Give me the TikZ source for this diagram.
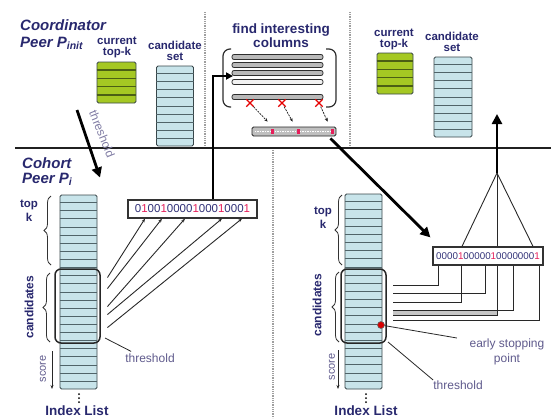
\documentclass[tikz,border=0pt]{standalone}
\usepackage{fontspec}
\setmainfont{Liberation Sans}
\usetikzlibrary{decorations.pathreplacing,arrows.meta,calc,shapes.misc}
\definecolor{navy}{RGB}{40,40,110}
\definecolor{softlbl}{RGB}{95,90,140}
\definecolor{lblue}{RGB}{200,228,234}
\definecolor{sepgray}{RGB}{80,100,105}
\definecolor{tgreen}{RGB}{165,200,35}
\definecolor{dgreen}{RGB}{75,95,20}
\definecolor{bitred}{RGB}{230,30,90}
\definecolor{bitblue}{RGB}{50,50,120}
\definecolor{darkline}{RGB}{40,40,40}
\newcommand{\fsz}[1]{\fontsize{#1}{#1}\selectfont}
\newcommand{\bz}[1]{\textcolor{bitblue}{#1}}
\newcommand{\bo}{\textcolor{bitred}{1}}
\newcommand{\rowlines}[3]{\foreach \i in {1,...,#2}{\draw[#3] ($(#1.north west)!{\i/(#2+1)}!(#1.south west)$) -- ($(#1.north east)!{\i/(#2+1)}!(#1.south east)$);}}
\begin{document}
\begin{tikzpicture}[x=1pt,y=-1pt,
  stack/.style={draw=sepgray!70!black, line width=0.9, rounded corners=1.5, inner sep=0},
  lbl/.style={font=\fontsize{11.5}{11}\selectfont\bfseries, text=navy, align=center, inner sep=0},
  head/.style={anchor=base west, font=\fsz{15}\bfseries\itshape, text=navy, inner sep=0},
  bar/.style={minimum width=91, minimum height=5, rounded corners=2, draw=gray!35!black, line width=0.8, inner sep=0},
  xmark/.style={draw=red!90!black, cross out, minimum size=6, line width=1.3, inner sep=0},
  smallarrow/.style={gray!20!black, line width=0.7, dash pattern=on 2pt off 1pt, -{Stealth[length=3.5pt,width=3pt]}},
  bigarrow/.style={line width=2.8, black, -{Triangle[length=10pt,width=10pt]}},
  midarrow/.style={line width=2.4, black, -{Triangle[length=7pt,width=7pt]}},
  fanarrow/.style={darkline, line width=0.9, -{Stealth[length=4pt,width=3pt]}},
  fanline/.style={darkline, line width=0.9},
  elbow/.style={darkline, line width=0.9},
  bitbox/.style={draw=gray!40!black, fill=white, line width=1.2, inner sep=2, minimum height=18},
  brace/.style={decorate, decoration={brace, amplitude=7pt}, draw=gray!40!black, line width=0.8},
  ptr/.style={darkline, line width=0.8},
  note/.style={font=\fontsize{12}{15}\selectfont, text=softlbl, align=center, inner sep=0},
  sepline/.style={gray!75, line width=1.5, dash pattern=on 1pt off 0.8pt},
  frame/.style={line width=1.5, black!85, rounded corners=6}]
\useasboundingbox (0,0) rectangle (551,418);

% separators
\draw[sepline] (205,12) -- (205,148);
\draw[sepline] (350,12) -- (350,148);
\draw[sepline] (273,148) -- (273,418);
\draw[line width=1.3, gray!25!black] (15,148) -- (551,148);

% headings
\node[head] (coord) at (20,30) {Coordinator};
\node[head] (peerI) at (20,47) {Peer P\textsubscript{init}};
\node[head] (cohort) at (22,168) {Cohort};
\node[head] (peerC) at (22,183) {Peer P\textsubscript{i}};

% coordinator left: current top-k and candidate set
\node[lbl] (ctkL) at (117,47) {current\\top-k};
\node[lbl] (csL) at (175,51) {candidate\\set};
\node[stack, fill=tgreen, minimum width=39, minimum height=41] (topkL) at (116.5,82.5) {};
\rowlines{topkL}{4}{dgreen, line width=1.2}
\node[stack, fill=lblue, minimum width=37, minimum height=80] (candL) at (175,106) {};
\rowlines{candL}{9}{sepgray, line width=1}

% coordinator right
\node[lbl] (ctkR) at (394,39) {current\\top-k};
\node[lbl] (csR) at (452,42) {candidate\\set};
\node[stack, fill=tgreen, minimum width=36, minimum height=41] (topkR) at (395,73.5) {};
\rowlines{topkR}{4}{dgreen, line width=1.2}
\node[stack, fill=lblue, minimum width=38, minimum height=80] (candR) at (453,97) {};
\rowlines{candR}{9}{sepgray, line width=1}

% find interesting columns
\node[lbl, font=\fontsize{13.5}{14}\selectfont\bfseries] (find) at (281,35.5) {find interesting\\columns};
\foreach \y/\f [count=\k] in {57/gray!55, 65/gray!55, 73/gray!55, 82/gray!10, 97/gray!55}
  \node[bar, fill=\f] (bar\k) at (277.5,\y) {};
\draw[gray!35!black, line width=1.2, rounded corners=7] (231,49) -- (223,49) -- (223,107) -- (231,107);
\draw[gray!35!black, line width=1.2, rounded corners=7] (326,49) -- (336,49) -- (336,107) -- (326,107);
\foreach \x/\k in {250/1,282/2,319/3}
  \node[xmark] (x\k) at (\x,103) {};
\node[draw=gray!30!black, fill=gray!50, rounded corners=1.5, minimum width=84, minimum height=9, inner sep=0, line width=0.8] (gbar) at (294,131.5) {};
\draw[white, densely dotted, line width=1.5] ($(gbar.west)+(3,0)$) -- ($(gbar.east)+(-3,0)$);
\foreach \dx in {-23,3,37}
  \fill[bitred] ($(gbar.center)+(\dx,-2.5)$) rectangle ++(3,5);
\draw[smallarrow] (x1) -- ($(gbar.north west)+(16,-5)$);
\draw[smallarrow] (x2) -- ($(gbar.north west)+(41,-5)$);
\draw[smallarrow] (x3) -- ($(gbar.north west)+(76,-5)$);

% left cohort index list
\node[stack, fill=lblue, minimum width=37, minimum height=194] (colL) at (78.5,292) {};
\rowlines{colL}{23}{sepgray, line width=1}
\draw[frame] (55,269) rectangle (100,343);
\draw[brace] (51,265) -- (51,196);
\draw[brace] (50,342) -- (50,273);
\node[lbl, font=\fontsize{11.5}{14}\selectfont\bfseries] (topkLbl) at (29,211) {top\\k};
\node[rotate=90, font=\fsz{12}\bfseries, text=navy, inner sep=0] (candLbl) at (29,307) {candidates};
\node[rotate=90, font=\fsz{11}, text=softlbl, inner sep=0] (scoreL) at (43,369) {score};
\draw[-{Stealth[length=4pt]}, darkline, line width=0.8] (52,351) -- (52,389);
\foreach \yy in {394,398,402} \fill[black] (79,\yy) circle (1);
\node[font=\fsz{13.5}\bfseries, text=navy, inner sep=0] (ilL) at (77,411) {Index List};

% left bit vector
\node[bitbox, minimum width=129, font=\fsz{11.5}] (bvL) at (192.5,209)
  {\bz{0}\bo\bz{00}\bo\bz{0000}\bo\bz{000}\bo\bz{000}\bo};
\foreach \sy/\dx in {83/-47.5, 94/-30.5, 112/-7.5, 120/29.5, 133/49.5}
  \draw[fanarrow] ($(colL.north east)+(10,\sy)$) -- ($(bvL.south)+(\dx,0)$);
\coordinate (brk) at (233,76);
\draw[midarrow] ($(bvL.north)+(20.5,0)$) |- (brk);
\node[note] (thrL) at (150,358) {threshold};
\draw[ptr] (105,338) -- ($(thrL.north west)+(6,-2)$);

% upper-left threshold arrow
\coordinate (thrS) at (77,110);
\draw[bigarrow] (thrS) -- ($(colL.north)+(21.5,-17)$);
\node[rotate=-68, font=\fsz{12}, text=softlbl!80, inner sep=0] (thrTxt) at (102,134) {threshold};

% right cohort index list
\node[stack, fill=lblue, minimum width=37, minimum height=195] (colR) at (363.5,291.5) {};
\rowlines{colR}{23}{sepgray, line width=1}
\draw[frame] (341,269) rectangle (386,343);
\draw[brace] (342,265) -- (342,195);
\draw[brace] (339,342) -- (339,272);
\node[lbl, font=\fontsize{11.5}{14}\selectfont\bfseries] (topkRLbl) at (323,218) {top\\k};
\node[rotate=90, font=\fsz{12}\bfseries, text=navy, inner sep=0] (candRLbl) at (317,305) {candidates};
\node[rotate=90, font=\fsz{11}, text=softlbl, inner sep=0] (scoreR) at (332,367) {score};
\draw[-{Stealth[length=4pt]}, darkline, line width=0.8] (338,350) -- (338,389);
\foreach \yy in {394,398,402} \fill[black] (366,\yy) circle (1);
\node[font=\fsz{13.5}\bfseries, text=navy, inner sep=0] (ilR) at (366,411) {Index List};

% right bit vector
\node[bitbox, minimum width=110, font=\fsz{9.8}] (bvR) at (488,256)
  {\bz{0000}\bo\bz{00000}\bo\bz{0000000}\bo};
\fill[gray!45] (393,311) rectangle (497,316);
\foreach \dx/\ty in {-50/92, -3/100, -27/109, 25/117, 9/122, 51/127}
  \draw[elbow] ($(bvR.south)+(\dx,0)$) |- ($(colR.north east)+(11,\ty)$);
\coordinate (fan) at (497,173);
\coordinate (arrR) at (497,114);
\foreach \dx in {-26,9,45}
  \draw[fanline] ($(bvR.north)+(\dx,0)$) -- (fan);
\draw[bigarrow] (fan) -- (arrR);

% big diagonal arrow
\draw[bigarrow] ($(gbar.south east)+(-6,2)$) -- ($(bvR.north west)+(-2,-9)$);

% early stopping point, threshold (right)
\node[circle, fill=red!85!black, draw=black!60, line width=0.6, inner sep=0, minimum size=7] (esp) at (381,325) {};
\node[note] (esL) at (507,352) {early stopping\\point};
\draw[ptr] (esp) -- ($(esL.west)+(-12.5,-14)$);
\node[note] (thrR) at (458,385) {threshold};
\draw[ptr] (388,342) -- ($(thrR.west)+(0,-5)$);
\end{tikzpicture}
\end{document}
